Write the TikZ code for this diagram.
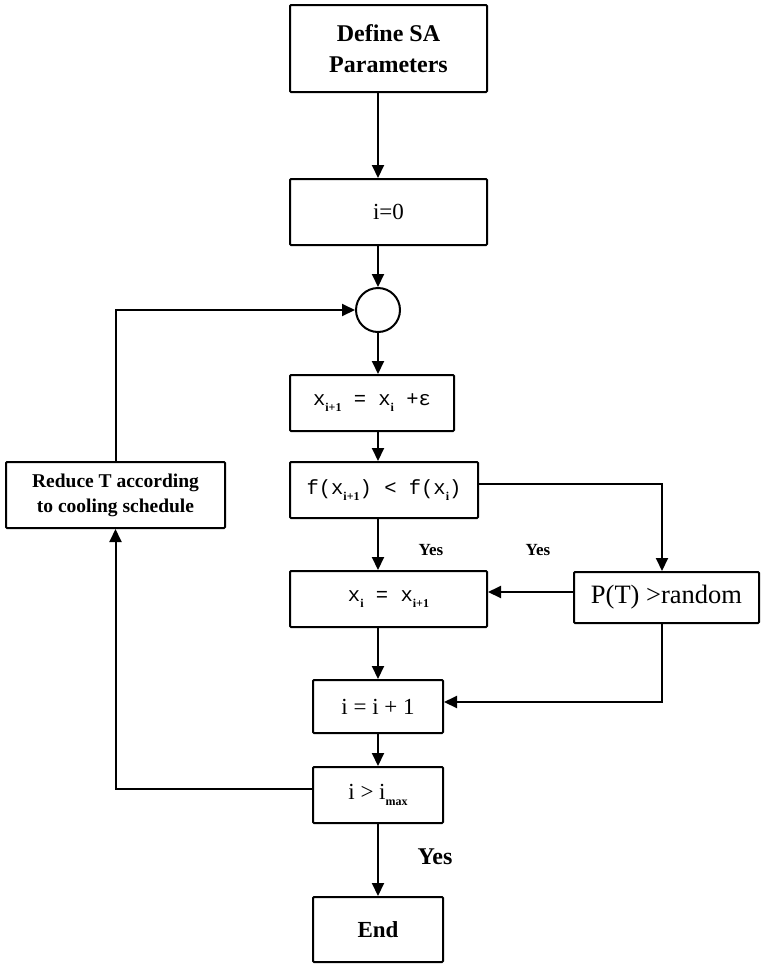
\documentclass[tikz,border=0pt]{standalone}
\usepackage{fontspec}
\setmainfont{Liberation Serif}
\newfontfamily\courfont{Liberation Mono}
\usetikzlibrary{arrows.meta}
\newcommand\lowsub[1]{\raisebox{-6pt}{\rmfamily\fontsize{12}{12}\selectfont\bfseries #1}}

\begin{document}
\begin{tikzpicture}[x=1pt,y=-1pt,
  box/.style={draw,line width=2pt,rounded corners=1pt,inner sep=0pt,align=center},
  arr/.style={line width=2pt,-{Triangle[length=13pt,width=12pt]}},
  cour/.style={font=\courfont\fontsize{20.5}{24}\selectfont},
  tnr/.style={font=\fontsize{23}{27}\selectfont},
  yeslbl/.style={font=\bfseries\fontsize{17}{20}\selectfont}]
\useasboundingbox (0,0) rectangle (761,964);

\node[box,minimum width=197pt,minimum height=87pt,font=\bfseries\fontsize{24}{31}\selectfont] (def) at (388.5,48.5) {Define SA\\Parameters};
\node[box,minimum width=197pt,minimum height=66pt,tnr] (i0) at (388.5,212) {i=0};
\node[draw,circle,line width=2pt,minimum size=44pt,inner sep=0pt] (circ) at (378,310) {};
\node[box,minimum width=164pt,minimum height=56pt,cour] (xnew) at (372,403) {x\lowsub{i+1} = x\lowsub{i} +ε};
\node[box,minimum width=188pt,minimum height=56pt,cour] (f) at (384,490) {f(x\lowsub{i+1}) < f(x\lowsub{i})};
\node[box,minimum width=197pt,minimum height=56pt,cour] (xi) at (388.5,599) {x\lowsub{i} = x\lowsub{i+1}};
\node[box,minimum width=185pt,minimum height=51pt,font=\fontsize{26.5}{30}\selectfont] (p) at (666.5,597.5) {P(T) >random};
\node[box,minimum width=130pt,minimum height=53pt,tnr] (inc) at (378,706.5) {i = i + 1};
\node[box,minimum width=130pt,minimum height=56pt,tnr] (cmp) at (378,795) {i > i\lowsub{max}};
\node[box,minimum width=130pt,minimum height=65pt,font=\bfseries\fontsize{23}{27}\selectfont] (end) at (378,929.5) {End};
\node[box,minimum width=219pt,minimum height=66pt,font=\bfseries\fontsize{19.5}{25}\selectfont] (red) at (115.5,495) {Reduce T according\\to cooling schedule};

\node[yeslbl] (y1) at (431,550) {Yes};
\node[yeslbl] (y2) at (538,550) {Yes};
\node[font=\bfseries\fontsize{24}{28}\selectfont] (y3) at (435,857) {Yes};

\draw[arr] (def.south -| circ) -- (i0.north -| circ);
\draw[arr] (i0.south -| circ) -- (circ.north);
\draw[arr] (circ.south) -- (xnew.north -| circ);
\draw[arr] (xnew.south -| circ) -- (f.north -| circ);
\draw[arr] (f.south -| circ) -- (xi.north -| circ);
\draw[arr] (xi.south -| circ) -- (inc.north);
\draw[arr] (inc.south) -- (cmp.north);
\draw[arr] (cmp.south) -- (end.north);
\draw[arr] ([yshift=6pt]f.east) -| ([xshift=-4.5pt]p.north);
\draw[arr] ([yshift=5.5pt]p.west) -- ([yshift=5.5pt]p.west -| xi.east);
\draw[arr] ([xshift=-4.5pt]p.south) |- ([yshift=4.5pt]inc.east);
\draw[arr] ([yshift=6pt]cmp.west) -| (red.south);
\draw[arr] (red.north) |- (circ.west);
\end{tikzpicture}
\end{document}
